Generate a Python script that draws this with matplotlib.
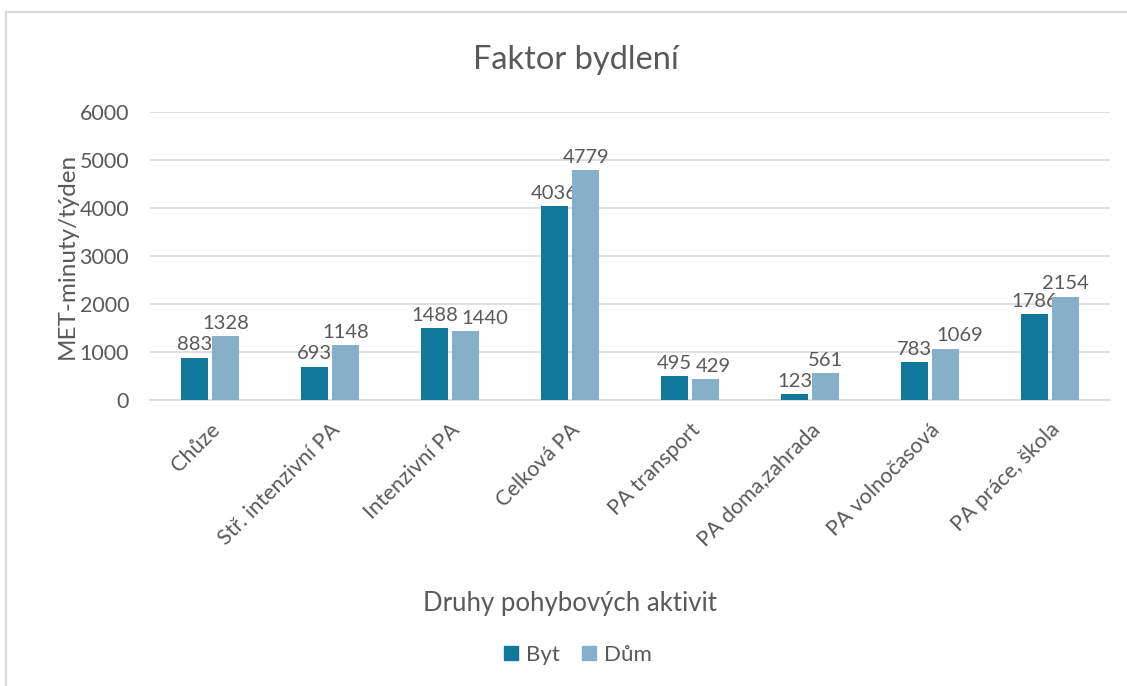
import numpy as np
import matplotlib.pyplot as plt
from matplotlib.lines import Line2D

plt.rcParams['font.family'] = ['Lato', 'DejaVu Sans']

categories = ['Chůze', 'Stř. intenzivní PA', 'Intenzivní PA', 'Celková PA',
              'PA transport', 'PA doma,zahrada', 'PA volnočasová', 'PA práce, škola']
byt = [883, 693, 1488, 4036, 495, 123, 783, 1786]
dum = [1328, 1148, 1440, 4779, 429, 561, 1069, 2154]
series_names = ['Byt', 'Dům']
colors = ['#10799A', '#86AFC9']
text_col = '#595959'
grid_col = '#D9D9D9'

fig = plt.figure(figsize=(11.27, 6.86), dpi=100)
ax = fig.add_axes([0.133, 0.417, 0.852, 0.42])

x = np.arange(len(categories))
w = 0.225
gap = 0.035
labels = []
for vals, off, c, name in [(byt, -(w + gap) / 2, colors[0], series_names[0]),
                            (dum, (w + gap) / 2, colors[1], series_names[1])]:
    bars = ax.bar(x + off, vals, width=w, color=c, label=name, zorder=3)
    row = []
    for b, v in zip(bars, vals):
        t = ax.annotate(str(v), (b.get_x() + b.get_width() / 2, v),
                        xytext=(0, 3), textcoords='offset points',
                        ha='center', va='bottom', fontsize=14.5, color=text_col)
        row.append(t)
    labels.append(row)

ax.set_xlim(-0.5, len(categories) - 0.5)
ax.set_ylim(0, 6000)
ax.set_yticks(range(0, 6001, 1000))
ax.yaxis.grid(True, color=grid_col, linewidth=1.2, zorder=0)
ax.set_axisbelow(True)
for s in ['top', 'right', 'left']:
    ax.spines[s].set_visible(False)
ax.spines['bottom'].set_color(grid_col)
ax.spines['bottom'].set_linewidth(1.2)
ax.tick_params(axis='both', length=0, labelsize=15.5, colors=text_col)
ax.tick_params(axis='y', pad=15)
ax.set_xticks(x)
ax.set_xticklabels(categories, rotation=45, ha='right', rotation_mode='anchor')
ax.tick_params(axis='x', pad=14)

ax.set_ylabel('MET-minuty/týden', fontsize=17.5, color=text_col, labelpad=1)
fig.text(0.506, 0.12, 'Druhy pohybových aktivit', ha='center', va='center',
         fontsize=18.5, color=text_col)
fig.text(0.511, 0.912, 'Faktor bydlení', ha='center', va='center',
         fontsize=23.5, color=text_col)

handles = [Line2D([], [], marker='s', linestyle='none', markersize=10,
                  markerfacecolor=c, markeredgecolor=c) for c in colors]
fig.legend(handles, series_names, loc='center', bbox_to_anchor=(0.512, 0.045),
           ncol=2, frameon=False, fontsize=16, labelcolor=text_col,
           handlelength=0.8, handletextpad=0.3, columnspacing=0.9)

# like Excel: push the second label sideways when two labels collide
fig.canvas.draw()
r = fig.canvas.get_renderer()
for t1, t2 in zip(labels[0], labels[1]):
    b1, b2 = t1.get_window_extent(r), t2.get_window_extent(r)
    if b1.overlaps(b2):
        shift = (b1.x1 - b2.x0 + 4) * 72 / fig.dpi
        t2.set_position((shift, 3))

# outer chart border
fig.add_artist(Line2D([6 / 1127, 6 / 1127], [0, 1 - 12 / 686], color=grid_col,
                      linewidth=1.5, transform=fig.transFigure))
fig.add_artist(Line2D([6 / 1127, 1], [1 - 12 / 686, 1 - 12 / 686], color=grid_col,
                      linewidth=1.5, transform=fig.transFigure))

fig.savefig('out.png', dpi=100)
